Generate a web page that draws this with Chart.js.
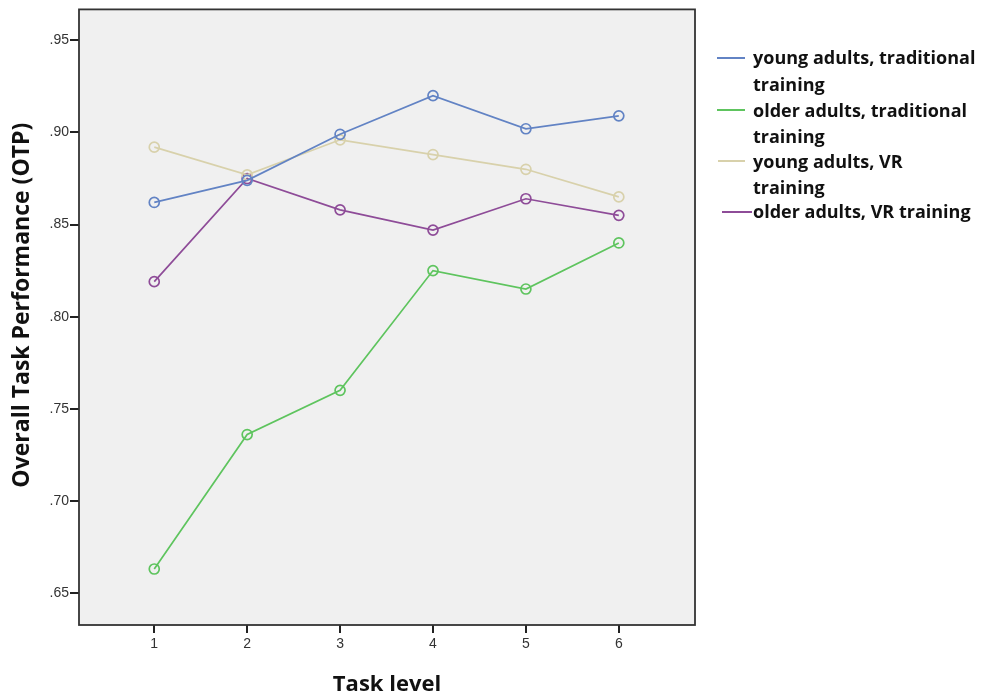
<!DOCTYPE html>
<html lang="en">
<head>
    <meta charset="UTF-8">
    <title>Overall Task Performance by Task level</title>
    <script src="https://cdn.jsdelivr.net/npm/chart.js"></script>
    <style>
        body {
            margin: 0;
            background: #fff;
        }

        #wrap {
            position: relative;
            width: 984px;
            height: 698px;
        }

        .leg-line {
            position: absolute;
            height: 2px;
        }

        .leg-text {
            position: absolute;
            font-family: 'Open Sans', sans-serif;
            font-weight: 700;
            font-size: 18px;
            line-height: 22px;
            color: #111;
            white-space: nowrap;
        }
    </style>
</head>
<body>
    <div id="wrap">
        <canvas id="otpChart"></canvas>
    </div>

    <script>
        // task levels on the x axis
        const taskLevels = [1, 2, 3, 4, 5, 6];

        // mean OTP per group
        const youngTraditional = [0.862, 0.874, 0.899, 0.920, 0.902, 0.909];
        const olderTraditional = [0.663, 0.736, 0.760, 0.825, 0.815, 0.840];
        const youngVR = [0.892, 0.877, 0.896, 0.888, 0.880, 0.865];
        const olderVR = [0.819, 0.875, 0.858, 0.847, 0.864, 0.855];

        const yTicks = [0.65, 0.70, 0.75, 0.80, 0.85, 0.90, 0.95];

        const seriesNames = [
            ['young adults, traditional', 'training'],
            ['older adults, traditional', 'training'],
            ['young adults, VR', 'training'],
            ['older adults, VR training']
        ];
        const seriesColors = ['#6283c4', '#5ec45e', '#d8d1ab', '#8e4c98'];
        const seriesData = [youngTraditional, olderTraditional, youngVR, olderVR];

        const yTitle = 'Overall Task Performance (OTP)';

        // plot background + frame like the SPSS output
        const plotFrame = {
            id: 'plotFrame',
            beforeDatasetsDraw(chart) {
                const a = chart.chartArea;
                const c = chart.ctx;
                c.save();
                c.fillStyle = '#f0f0f0';
                c.fillRect(a.left, a.top, a.right - a.left, a.bottom - a.top);
                c.strokeStyle = '#333';
                c.lineWidth = 1.8;
                c.strokeRect(a.left, a.top, a.right - a.left, a.bottom - a.top);
                c.restore();
            },
            // y title sits a bit above the axis middle in the original
            afterDraw(chart) {
                const c = chart.ctx;
                const a = chart.chartArea;
                c.save();
                c.translate(22, (a.top + a.bottom) / 2 - 12);
                c.rotate(-Math.PI / 2);
                c.font = "bold 23px 'Open Sans', sans-serif";
                c.fillStyle = '#111';
                c.textAlign = 'center';
                c.textBaseline = 'middle';
                c.fillText(yTitle, 0, 0);
                c.restore();
            }
        };

        const datasets = seriesData.map((vals, i) => ({
            label: seriesNames[i].join(' '),
            data: taskLevels.map((t, j) => ({ x: t, y: vals[j] })),
            borderColor: seriesColors[i],
            backgroundColor: 'rgba(0,0,0,0)',
            borderWidth: 1.7,
            pointRadius: 5,
            pointBorderWidth: 1.7,
            pointBackgroundColor: 'rgba(0,0,0,0)',
            tension: 0
        }));

        const tickFont = { family: "'Liberation Sans', Arial, sans-serif", size: 14 };

        const chart = new Chart(document.getElementById('otpChart'), {
            type: 'line',
            data: { datasets: datasets },
            plugins: [plotFrame],
            options: {
                responsive: true,
                maintainAspectRatio: false,
                animation: false,
                layout: { padding: { left: 0, top: 9, right: 289, bottom: 0 } },
                plugins: {
                    legend: { display: false },
                    tooltip: { enabled: false }
                },
                scales: {
                    x: {
                        type: 'linear',
                        min: 0.19,
                        max: 6.82,
                        afterBuildTicks: s => { s.ticks = taskLevels.map(v => ({ value: v })); },
                        afterFit: s => { s.height = 73; },
                        grid: { drawOnChartArea: false, drawTicks: true, tickLength: 8, color: '#222', lineWidth: 2 },
                        border: { display: false },
                        ticks: { font: tickFont, color: '#333', padding: 3, callback: v => String(v) },
                        title: {
                            display: true,
                            text: 'Task level',
                            font: { family: "'Open Sans', sans-serif", size: 22, weight: 'bold' },
                            color: '#111',
                            padding: { top: 0, bottom: 0 }
                        }
                    },
                    y: {
                        min: 0.6326,
                        max: 0.9668,
                        afterBuildTicks: s => { s.ticks = yTicks.map(v => ({ value: v })); },
                        afterFit: s => { s.width = 79; },
                        grid: { drawOnChartArea: false, drawTicks: true, tickLength: 9, color: '#222', lineWidth: 2 },
                        border: { display: false },
                        ticks: {
                            font: tickFont,
                            color: '#333',
                            padding: 1,
                            callback: v => v.toFixed(2).replace(/^0/, '')
                        },
                        title: { display: false }
                    }
                }
            }
        });

        // legend drawn as html to the right of the plot
        const wrap = document.getElementById('wrap');
        const legLineY = [58, 110, 161, 212];
        const legLineX = [[717, 745], [717, 745], [718, 745], [722, 752]];
        const legTextY = [[58, 85], [111, 137], [162, 188], [212]];
        seriesNames.forEach((lines, i) => {
            const ln = document.createElement('div');
            ln.className = 'leg-line';
            ln.style.left = legLineX[i][0] + 'px';
            ln.style.width = (legLineX[i][1] - legLineX[i][0]) + 'px';
            ln.style.top = (legLineY[i] - 1) + 'px';
            ln.style.background = seriesColors[i];
            wrap.appendChild(ln);
            lines.forEach((txt, k) => {
                const t = document.createElement('div');
                t.className = 'leg-text';
                t.textContent = txt;
                t.style.left = '753px';
                t.style.top = (legTextY[i][k] - 12) + 'px';
                wrap.appendChild(t);
            });
        });
    </script>
</body>
</html>
